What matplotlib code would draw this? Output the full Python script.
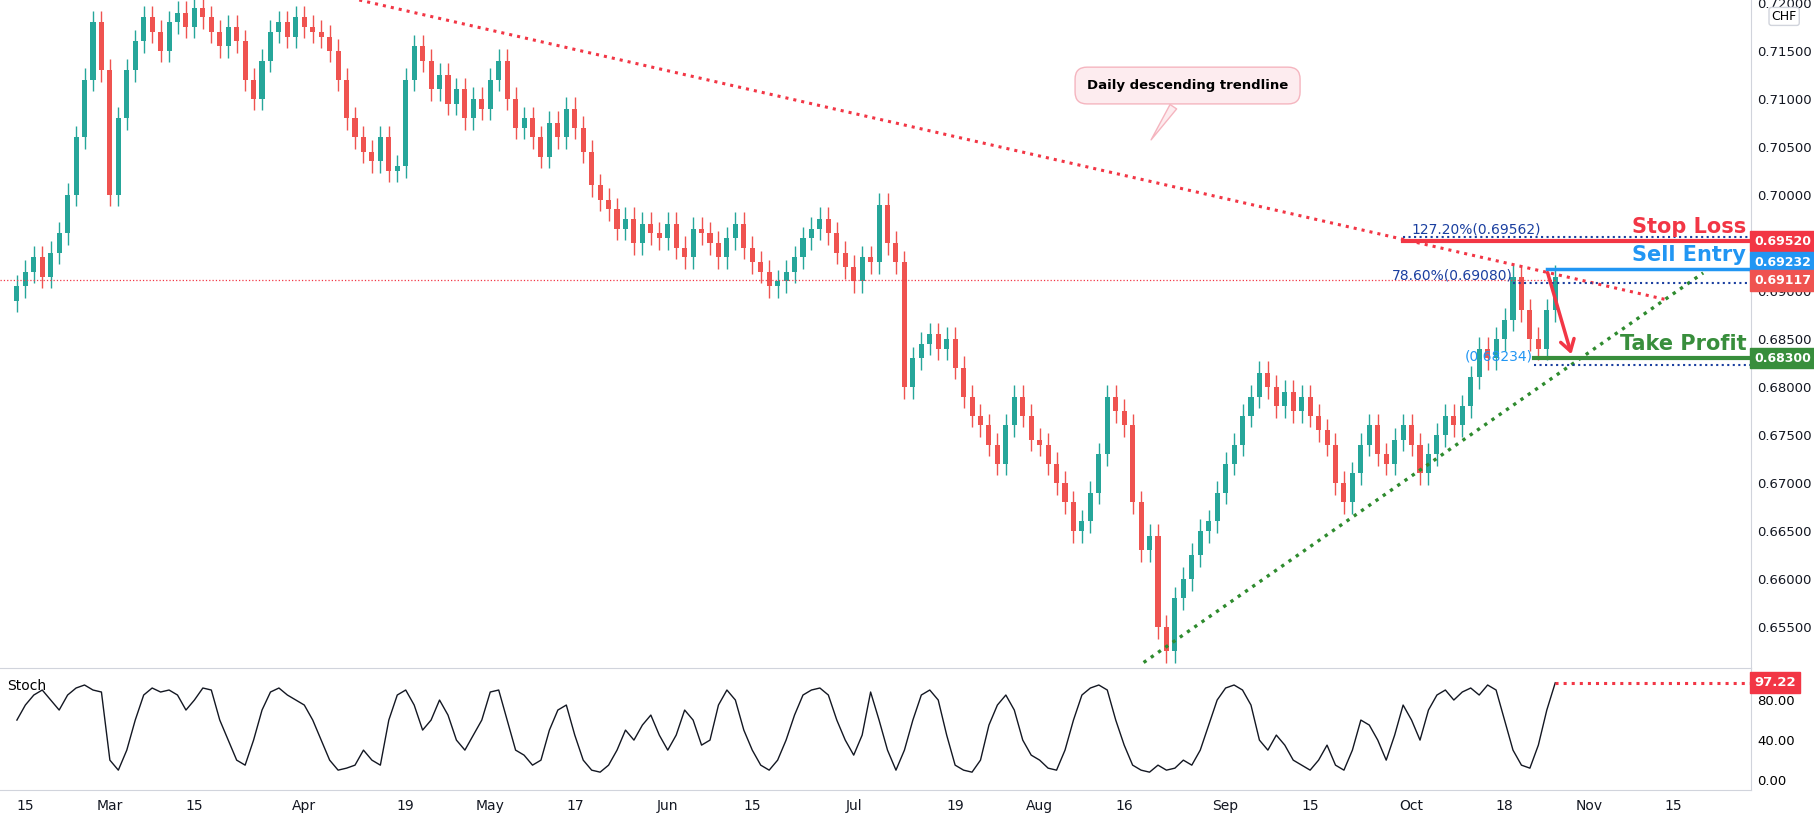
import matplotlib.pyplot as plt
import matplotlib.ticker as mticker
import pandas as pd

# daily closes, one list per week (Feb 12 2021 .. Oct 26 2021)
closes = [0.6905,
    0.6920, 0.6935, 0.6915, 0.6940, 0.6960,
    0.7000, 0.7060, 0.7120, 0.7180, 0.7130,
    0.7000, 0.7080, 0.7130, 0.7160, 0.7185,
    0.7170, 0.7150, 0.7180, 0.7190, 0.7175,
    0.7195, 0.7185, 0.7170, 0.7155, 0.7175,
    0.7160, 0.7120, 0.7100, 0.7140, 0.7170,
    0.7180, 0.7165, 0.7185, 0.7175, 0.7170,
    0.7165, 0.7150, 0.7120, 0.7080, 0.7060,
    0.7045, 0.7035, 0.7060, 0.7025, 0.7030,
    0.7120, 0.7155, 0.7140, 0.7110, 0.7125,
    0.7095, 0.7110, 0.7080, 0.7100, 0.7090,
    0.7120, 0.7140, 0.7100, 0.7070, 0.7080,
    0.7060, 0.7040, 0.7075, 0.7060, 0.7090,
    0.7070, 0.7045, 0.7010, 0.6995, 0.6985,
    0.6965, 0.6975, 0.6950, 0.6970, 0.6960,
    0.6955, 0.6970, 0.6945, 0.6935, 0.6965,
    0.6960, 0.6950, 0.6935, 0.6955, 0.6970,
    0.6945, 0.6930, 0.6920, 0.6905, 0.6910,
    0.6920, 0.6935, 0.6955, 0.6965, 0.6975,
    0.6960, 0.6940, 0.6925, 0.6910, 0.6935,
    0.6930, 0.6990, 0.6950, 0.6930, 0.6800,
    0.6830, 0.6845, 0.6855, 0.6840, 0.6850,
    0.6820, 0.6790, 0.6770, 0.6760, 0.6740,
    0.6720, 0.6760, 0.6790, 0.6770, 0.6745,
    0.6740, 0.6720, 0.6700, 0.6680, 0.6650,
    0.6660, 0.6690, 0.6730, 0.6790, 0.6775,
    0.6760, 0.6680, 0.6630, 0.6645, 0.6550,
    0.6525, 0.6580, 0.6600, 0.6625, 0.6650,
    0.6660, 0.6690, 0.6720, 0.6740, 0.6770,
    0.6790, 0.6815, 0.6800, 0.6780, 0.6795,
    0.6775, 0.6790, 0.6770, 0.6755, 0.6740,
    0.6700, 0.6680, 0.6710, 0.6740, 0.6760,
    0.6730, 0.6720, 0.6745, 0.6760, 0.6740,
    0.6710, 0.6730, 0.6750, 0.6770, 0.6760,
    0.6780, 0.6810, 0.6840, 0.6830, 0.6850,
    0.6870, 0.6915, 0.6880, 0.6850, 0.6840,
    0.6880, 0.6915]
first_open = 0.6890
wick = 0.0012

stoch = [60, 75, 85, 90, 80, 70, 85, 92, 95, 90, 88,
    20, 10, 30, 60, 85, 92, 88, 90, 85, 70, 80, 92, 90, 60, 40, 20, 15, 40, 70, 88, 92, 85, 80,
    75, 60, 40, 20, 10, 12, 15, 30, 20, 15, 60, 85, 90, 75, 50, 60, 80, 65, 40, 30, 45, 60,
    88, 90, 60, 30, 25, 15, 20, 50, 70, 75, 45, 20, 10, 8, 15, 30, 50, 40, 55, 65, 45,
    30, 45, 70, 60, 35, 40, 75, 90, 80, 50, 30, 15, 10, 20, 40, 65, 85, 90, 92, 85, 60, 40,
    25, 45, 88, 60, 30, 10, 30, 60, 85, 90, 80, 45, 15, 10, 8, 20, 55, 75, 85, 70, 40, 25,
    20, 12, 10, 30, 60, 85, 92, 95, 90, 60, 35, 15, 10, 8, 15, 10, 12, 20, 15, 30, 55, 80,
    92, 95, 90, 75, 40, 30, 45, 35, 20, 15, 10, 20, 35, 15, 10, 30, 60, 55, 40, 20, 45, 75,
    60, 40, 70, 85, 90, 80, 88, 92, 85, 95, 90, 60, 30, 15, 12, 35, 70, 97.22]

tick_dates = ['2021-02-15', '2021-03-01', '2021-03-15', '2021-04-01', '2021-04-19', '2021-05-03',
              '2021-05-17', '2021-06-01', '2021-06-15', '2021-07-01', '2021-07-19', '2021-08-02',
              '2021-08-16', '2021-09-01', '2021-09-15', '2021-10-01', '2021-10-18', '2021-11-01',
              '2021-11-15']
tick_labels = ['15', 'Mar', '15', 'Apr', '19', 'May', '17', 'Jun', '15', 'Jul', '19', 'Aug',
               '16', 'Sep', '15', 'Oct', '18', 'Nov', '15']
price_ticks = [0.655, 0.660, 0.665, 0.670, 0.675, 0.680, 0.685, 0.690,
               0.700, 0.705, 0.710, 0.715, 0.720]

# key levels
stop_loss = 0.69520
sell_entry = 0.69232
cur_price = 0.69117
take_profit = 0.68300
fib_127 = 0.69562
fib_786 = 0.69080
fib_low = 0.68234

GREEN = '#26a69a'
RED = '#ef5350'

days = pd.bdate_range('2021-02-12', periods=230)
idx = {d.strftime('%Y-%m-%d'): i for i, d in enumerate(days)}

fig = plt.figure(figsize=(18.14, 8.18), dpi=100)
ax = fig.add_axes([0.0, 0.1834, 0.965, 0.8166])
ax2 = fig.add_axes([0.0, 0.034, 0.965, 0.1494], sharex=ax)

prev = first_open
for i, c in enumerate(closes):
    o = prev
    col = GREEN if c >= o else RED
    ax.vlines(i, min(o, c) - wick, max(o, c) + wick, color=col, lw=1)
    ax.bar(i, abs(c - o) if abs(c - o) > 0.0001 else 0.0001, bottom=min(o, c), width=0.6, color=col)
    prev = c

ax.set_xlim(-2, 205.1)
ax.set_ylim(0.65073, 0.72031)

# trendlines
ax.plot([40.5, 195.3], [0.72031, 0.68906], ls=':', color='#f23645', lw=2.2)
ax.plot([133.3, 199.5], [0.6513, 0.69188], ls=':', color='#2e8b2e', lw=2.4)
ax.plot([-2, len(closes) - 1], [cur_price, cur_price], ls=':', color='#f23645', lw=0.9)

# levels
ax.plot([164, 205.1], [stop_loss, stop_loss], color='#f23645', lw=3)
ax.plot([181, 205.1], [sell_entry, sell_entry], color='#2196f3', lw=2.5)
ax.plot([179.5, 205.1], [take_profit, take_profit], color='#388e3c', lw=3)
ax.plot([164, 205.1], [fib_127, fib_127], ls=':', color='#1a3fa0', lw=1.5)
ax.plot([177, 205.1], [fib_786, fib_786], ls=':', color='#1a3fa0', lw=1.5)
ax.plot([179.5, 205.1], [fib_low, fib_low], ls=':', color='#1a3fa0', lw=1.5)
ax.text(165, fib_127 + 0.0001, '127.20%(0.69562)', color='#1a3fa0', fontsize=10, va='bottom')
ax.text(177, fib_786 + 0.0001, '78.60%(0.69080)', color='#1a3fa0', fontsize=10, va='bottom', ha='right')
ax.text(179.3, fib_low + 0.0001, '(0.68234)', color='#2196f3', fontsize=10, va='bottom', ha='right')
ax.text(204.6, stop_loss + 0.0004, 'Stop Loss', color='#f23645', fontsize=15, fontweight='bold', ha='right', va='bottom')
ax.text(204.6, sell_entry + 0.0004, 'Sell Entry', color='#2196f3', fontsize=15, fontweight='bold', ha='right', va='bottom')
ax.text(204.6, take_profit + 0.0004, 'Take Profit', color='#388e3c', fontsize=15, fontweight='bold', ha='right', va='bottom')
ax.annotate('', xy=(184, 0.68313), xytext=(181, 0.69219),
            arrowprops=dict(arrowstyle='->,head_length=0.8,head_width=0.5', color='#f23645', lw=2.5))

ax.annotate('Daily descending trendline', xy=(134, 0.7055), xytext=(138.5, 0.7114),
            fontsize=9.5, fontweight='bold', ha='center', va='center',
            bbox=dict(boxstyle='round,pad=0.9', fc='#fdecef', ec='#f5b5bf'),
            arrowprops=dict(arrowstyle='wedge,tail_width=0.6', fc='#fdecef', ec='#f5b5bf'))

ax.yaxis.tick_right()
ax.set_yticks(price_ticks)
ax.yaxis.set_major_formatter(mticker.FormatStrFormatter('%.5f'))
ax.tick_params(axis='y', labelsize=9.5, colors='#131722', length=0, pad=5)
ax.tick_params(axis='x', bottom=False, labelbottom=False)
for s in ['top', 'left', 'bottom']:
    ax.spines[s].set_visible(False)
ax.spines['right'].set_color('#d1d4dc')
ax.text(1.012, 0.7186, 'CHF', transform=ax.get_yaxis_transform(), fontsize=9, va='center',
        bbox=dict(boxstyle='round,pad=0.2', fc='white', ec='#d1d4dc'))

# right-axis tags; blue and red are nudged apart like the chart does
tags = [(stop_loss, stop_loss, '#f23645'), (sell_entry, 0.69300, '#2196f3'),
        (cur_price, 0.69110, '#ef5350'), (take_profit, take_profit, '#388e3c')]
for val, ypos, col in tags:
    ax.text(1.002, ypos, '%.5f' % val, transform=ax.get_yaxis_transform(), color='white',
            fontsize=9, fontweight='bold', va='center', zorder=10,
            bbox=dict(boxstyle='square,pad=0.3', fc=col, ec=col))

# stochastic
ax2.plot(range(len(stoch)), stoch, color='#131722', lw=1)
ax2.plot([len(stoch) - 1, 205.1], [stoch[-1], stoch[-1]], ls=':', color='#f23645', lw=2.2)
ax2.set_ylim(-10, 112)
ax2.set_yticks([0, 40, 80])
ax2.yaxis.tick_right()
ax2.yaxis.set_major_formatter(mticker.FormatStrFormatter('%.2f'))
ax2.tick_params(axis='y', labelsize=9.5, length=0, pad=5)
ax2.text(1.002, stoch[-1], '97.22', transform=ax2.get_yaxis_transform(), color='white',
         fontsize=9.5, fontweight='bold', va='center',
         bbox=dict(boxstyle='square,pad=0.3', fc='#f23645', ec='#f23645'))
ax2.text(0.004, 0.82, 'Stoch', transform=ax2.transAxes, fontsize=10)
ax2.spines['left'].set_visible(False)
for s in ['top', 'right', 'bottom']:
    ax2.spines[s].set_color('#d1d4dc')

ax2.set_xticks([idx[d] for d in tick_dates])
ax2.set_xticklabels(tick_labels, fontsize=10, color='#131722')
ax2.tick_params(axis='x', length=0, pad=6)

fig.savefig('out.png', dpi=100)
